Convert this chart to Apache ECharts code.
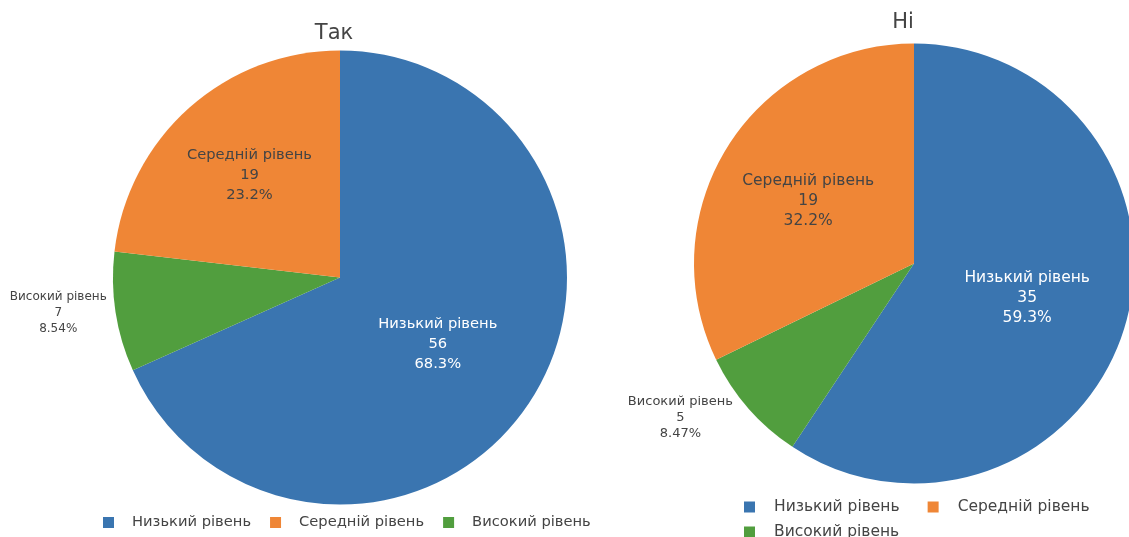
<!DOCTYPE html>
<html>
<head>
<meta charset="utf-8">
<script src="https://cdn.jsdelivr.net/npm/echarts@6/dist/echarts.min.js"></script>
<style>
  html, body { margin: 0; padding: 0; background: #ffffff; }
  #chart { width: 1129px; height: 537px; }
</style>
</head>
<body>
<div id="chart"></div>
<script>
// Level categories, in legend order
const categories = ['Низький рівень', 'Середній рівень', 'Високий рівень'];
// Counts per level for each answer group
const yesValues = [56, 19, 7];
const noValues = [35, 19, 5];
// Panel titles
const panelTitles = ['Так', 'Ні'];
// Slice order going clockwise from 12 o'clock (indices into categories)
const sliceOrder = [0, 2, 1];

const colors = ['#3a75b0', '#ef8636', '#519e3e'];
const insideTextColors = ['#ffffff', '#444444', '#444444'];
const FONT = 'DejaVu Sans, Verdana, sans-serif';

function pct(p) {
  return Number(p.toPrecision(3)) + '%';
}

// Builds one pie panel; the smallest slice gets an outside label
function makePie(values, cfg) {
  const data = sliceOrder.map(function (i) {
    const outside = i === 2;
    const item = {
      name: categories[i],
      value: values[i],
      itemStyle: { color: colors[i] }
    };
    if (outside) {
      item.label = {
        position: 'outside',
        fontSize: cfg.outFont,
        lineHeight: cfg.outLine,
        color: '#444444',
        formatter: function (p) {
          return '{c|' + p.name + '}\n{c|' + p.value + '}\n{c|' + pct(p.percent) + '}';
        },
        rich: { c: { align: 'center', fontSize: cfg.outFont, lineHeight: cfg.outLine, color: '#444444', fontFamily: FONT } }
      };
      item.labelLine = { show: false, length: cfg.outLen, length2: 0 };
    } else {
      item.label = {
        position: 'inner',
        color: insideTextColors[i],
        offset: cfg.nudge[i]
      };
    }
    return item;
  });
  return {
    type: 'pie',
    center: cfg.center,
    radius: cfg.radius,
    startAngle: 90,
    clockwise: true,
    percentPrecision: 4,
    avoidLabelOverlap: false,
    silent: true,
    itemStyle: { borderWidth: 0 },
    label: {
      fontFamily: FONT,
      fontSize: cfg.inFont,
      lineHeight: 20,
      formatter: function (p) {
        return p.name + '\n' + p.value + '\n' + pct(p.percent);
      }
    },
    labelLine: { show: false },
    emphasis: { disabled: true },
    data: data
  };
}

const chart = echarts.init(document.getElementById('chart'), null, { renderer: 'canvas' });

const legendText = function (size, pad) {
  return { fontFamily: FONT, fontSize: size, color: '#444444', padding: [0, 0, 0, pad] };
};

chart.setOption({
  animation: false,
  backgroundColor: '#ffffff',
  title: [
    { text: panelTitles[0], left: 334, top: 23, textAlign: 'center', padding: 0,
      textStyle: { fontFamily: FONT, fontSize: 21, fontWeight: 'normal', color: '#444444' } },
    { text: panelTitles[1], left: 903, top: 12, textAlign: 'center', padding: 0,
      textStyle: { fontFamily: FONT, fontSize: 21, fontWeight: 'normal', color: '#444444' } }
  ],
  legend: [
    { data: categories, orient: 'horizontal', left: 103, top: 515, padding: 0,
      icon: 'rect', itemWidth: 11, itemHeight: 11, itemGap: 19,
      selectedMode: false, textStyle: legendText(14.7, 13) },
    { data: categories.slice(0, 2), orient: 'horizontal', left: 744, top: 499, padding: 0,
      icon: 'rect', itemWidth: 11, itemHeight: 11, itemGap: 28,
      selectedMode: false, textStyle: legendText(15.5, 14) },
    { data: categories.slice(2), orient: 'horizontal', left: 744, top: 524, padding: 0,
      icon: 'rect', itemWidth: 11, itemHeight: 11, itemGap: 28,
      selectedMode: false, textStyle: legendText(15.5, 14) }
  ],
  series: [
    makePie(yesValues, {
      center: [340, 277.5], radius: 227, inFont: 14.7,
      outFont: 12, outLine: 16, outLen: 4,
      nudge: [[0, 3], [-13, -15], [0, 0]]
    }),
    makePie(noValues, {
      center: [914, 263.5], radius: 220, inFont: 15.5,
      outFont: 13, outLine: 16, outLen: 14,
      nudge: [[5, 2], [-10, -3], [0, 0]]
    })
  ]
});
</script>
</body>
</html>
